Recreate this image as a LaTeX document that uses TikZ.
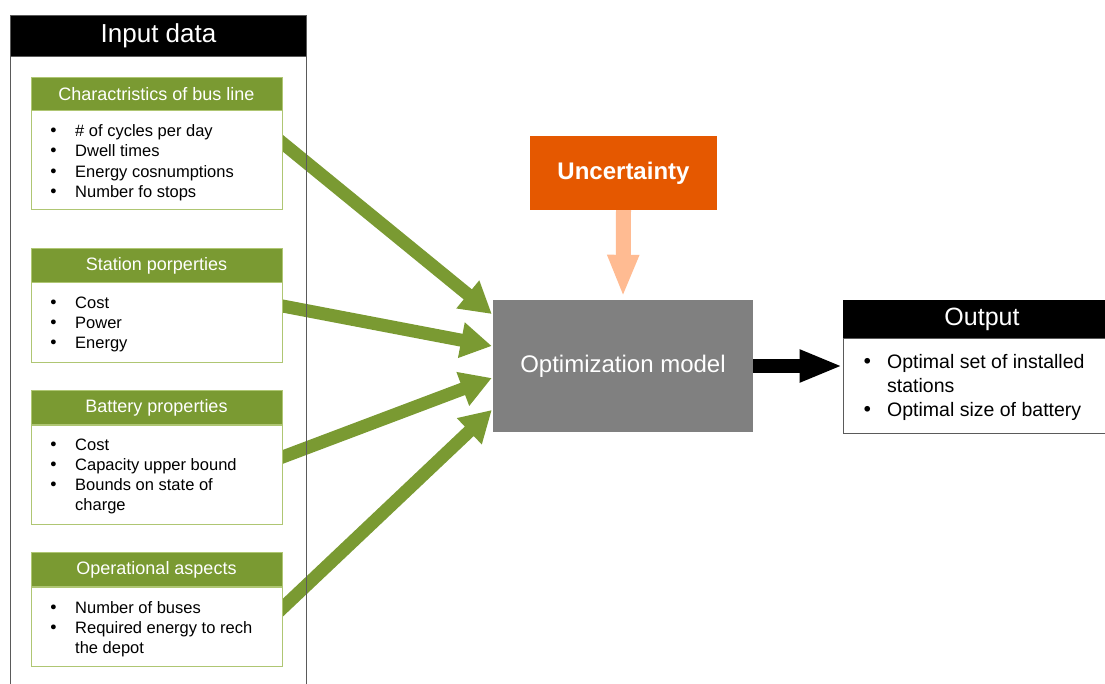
\documentclass[tikz,border=0pt]{standalone}
\usepackage{fontspec}
\setmainfont{Liberation Sans}
\newfontfamily\dvs{DejaVu Sans}
\usetikzlibrary{arrows.meta,calc,backgrounds}
\definecolor{gr}{RGB}{122,154,50}
\definecolor{lg}{RGB}{175,198,115}
\definecolor{org}{RGB}{229,88,0}
\definecolor{peach}{RGB}{255,187,146}
\definecolor{gbox}{RGB}{128,128,128}
\definecolor{frame}{RGB}{90,90,90}
\tikzset{
  hdr/.style={fill=black, text=white, inner sep=0pt, anchor=center},
  ghead/.style={fill=gr, draw=lg, line width=0.8pt, minimum width=251pt, minimum height=34pt, inner sep=0pt, text=white, font=\fontsize{18}{21}\selectfont},
  gbody/.style={draw=lg, fill=white, line width=1pt, minimum width=251pt, inner sep=0pt},
  blist/.style={anchor=base west, inner sep=0pt, align=left, font=\fontsize{16.5}{20.3}\selectfont},
  olist/.style={anchor=base west, inner sep=0pt, align=left, font=\fontsize{19.5}{24}\selectfont},
  garrow/.style={draw=gr, line width=13pt, -{Triangle[width=34pt,length=31pt]}},
}
\newcommand\bl[1]{\makebox[#1][l]{{\dvs •}}}
\begin{document}
\begin{tikzpicture}[x=1pt,y=-1pt]
\useasboundingbox (0,0) rectangle (1105,684);

% input frame header
\node[hdr, minimum width=295pt, minimum height=40pt, font=\fontsize{26}{30}\selectfont] (inhead) at (158.5,36) {Input data};

% group 1
\node[ghead] (g1h) at (156.5,94) {Charactristics of bus line};
\node[gbody, minimum height=99pt] (g1b) at (156.5,160.5) {};
\node[blist] (l1) at (48.5,136.5) {\begin{tabular}[t]{@{}l@{}l@{}}
\bl{26.5pt} & \# of cycles per day\\
\bl{26.5pt} & Dwell times\\
\bl{26.5pt} & Energy cosnumptions\\
\bl{26.5pt} & Number fo stops
\end{tabular}};

% group 2
\node[ghead] (g2h) at (156.5,265.5) {Station porperties};
\node[gbody, minimum height=79pt] (g2b) at (156.5,322.5) {};
\node[blist] (l2) at (48.5,308.3) {\begin{tabular}[t]{@{}l@{}l@{}}
\bl{26.5pt} & Cost\\
\bl{26.5pt} & Power\\
\bl{26.5pt} & Energy
\end{tabular}};

% group 3
\node[ghead] (g3h) at (156.5,407.5) {Battery properties};
\node[gbody, minimum height=99pt] (g3b) at (156.5,474.5) {};
\node[blist] (l3) at (48.5,450) {\begin{tabular}[t]{@{}l@{}l@{}}
\bl{26.5pt} & Cost\\
\bl{26.5pt} & Capacity upper bound\\
\bl{26.5pt} & Bounds on state of\\
 & charge
\end{tabular}};

% group 4
\node[ghead] (g4h) at (156.5,569.5) {Operational aspects};
\node[gbody, minimum height=79pt] (g4b) at (156.5,626.5) {};
\node[blist] (l4) at (48.5,613.3) {\begin{tabular}[t]{@{}l@{}l@{}}
\bl{26.5pt} & Number of buses\\
\bl{26.5pt} & Required energy to rech\\
 & the depot
\end{tabular}};

% uncertainty
\node[fill=org, minimum width=187pt, minimum height=74pt, inner sep=0pt, text=white, font=\fontsize{24}{28}\selectfont\bfseries] (unc) at (623.5,173) {Uncertainty};

% optimization model
\node[fill=gbox, minimum width=260pt, minimum height=132pt, inner sep=0pt, text=white, font=\fontsize{24}{28}\selectfont] (opt) at (623,366) {Optimization model};

% output
\node[hdr, minimum width=278pt, minimum height=39pt, font=\fontsize{25}{30}\selectfont] (outh) at (982,319.5) {Output};
\node[draw=frame, line width=1pt, fill=white, minimum width=278pt, minimum height=94pt, inner sep=0pt] (outb) at (982,386) {};
\node[olist] (lo) at (861.5,368) {\begin{tabular}[t]{@{}l@{}l@{}}
\bl{25.5pt} & Optimal set of installed\\
 & stations\\
\bl{25.5pt} & Optimal size of battery
\end{tabular}};

\begin{scope}[on background layer]
  \coordinate (s1) at ([yshift=17.5pt]g1b.east);
  \coordinate (t1) at ([yshift=52pt,xshift=-1pt]opt.west);
  \coordinate (s2) at ([yshift=16.5pt]g2b.east);
  \coordinate (t2) at ([yshift=20pt,xshift=-1pt]opt.west);
  \coordinate (s3) at ([yshift=17.5pt]g3b.east);
  \coordinate (t3) at ([yshift=-12pt,xshift=-1pt]opt.west);
  \coordinate (s4) at ([yshift=18.5pt]g4b.east);
  \coordinate (t4) at ([yshift=-44pt,xshift=-1pt]opt.west);
  \draw[garrow] ($(t1)!1.12!(s1)$) -- (t1);
  \draw[garrow] ($(t2)!1.12!(s2)$) -- (t2);
  \draw[garrow] ($(t3)!1.12!(s3)$) -- (t3);
  \draw[garrow] ($(t4)!1.12!(s4)$) -- (t4);
  % input frame
  \draw[frame, line width=1.2pt] (inhead.south west) -- ++(0,700) (inhead.south east) -- ++(0,700);
  \draw[frame, line width=1.2pt] (inhead.north west) rectangle (inhead.south east);
\end{scope}

% orange arrow
\draw[peach, line width=15pt, -{Triangle[width=29pt,length=42pt]}] (unc.south) -- ([yshift=3pt]opt.north);

% black arrow
\draw[black, line width=14pt, -{Triangle[width=30pt,length=43pt]}] (opt.east) -- (opt.east -| outb.west);
\end{tikzpicture}
\end{document}
